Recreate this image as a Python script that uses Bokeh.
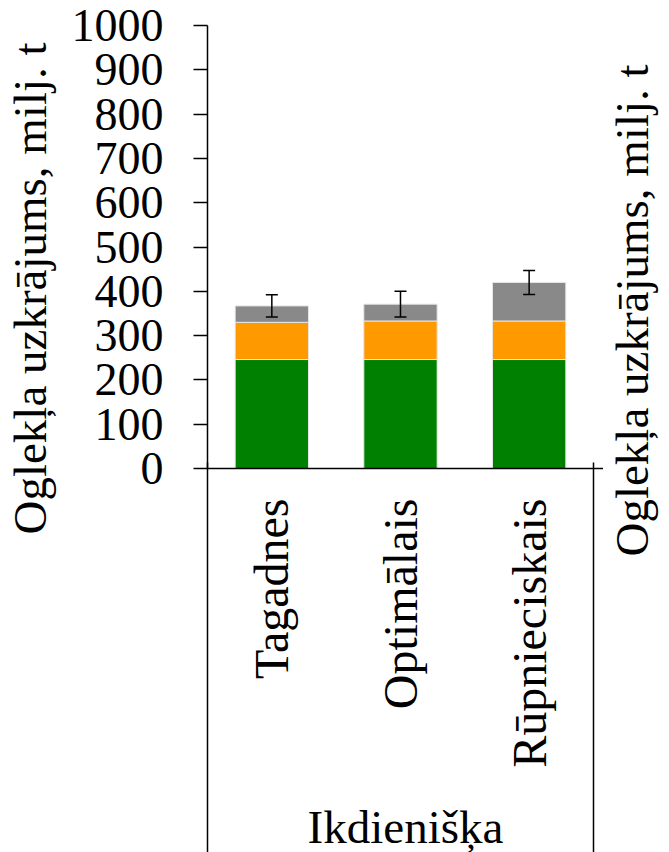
import math

from bokeh.embed import file_html
from bokeh.layouts import row
from bokeh.models import (ColumnDataSource, FixedTicker, LinearAxis, Range1d,
                          TeeHead, Title, Whisker)
from bokeh.plotting import figure
from bokeh.resources import INLINE

# Carbon stock by forest management scenario (million t)
scenarios = ["Tagadnes", "Optimālais", "Rūpnieciskais"]
group_name = "Ikdienišķa"
stock_green = [246, 246, 246]
stock_orange = [84, 87, 87]
stock_gray = [37, 38, 87]
stock_error = [25, 29, 27]
y_ticks = [0, 100, 200, 300, 400, 500, 600, 700, 800, 900, 1000]
axis_title = "Oglekļa uzkrājums, milj. t"

FONT = "Liberation Serif"
TICK_SIZE = "46px"
CAT_SIZE = "48px"
TITLE_SIZE = "47px"
HEIGHT = 852
SIDE_W = 66

# one slot per scenario on a numeric axis; slot centres carry the labels
n = len(scenarios)
centres = [i + 0.5 for i in range(n)]
totals = [g + o + r for g, o, r in zip(stock_green, stock_orange, stock_gray)]
src = ColumnDataSource(dict(
    x=centres,
    green=stock_green,
    orange=stock_orange,
    gray=stock_gray,
    upper=[t + e for t, e in zip(totals, stock_error)],
    lower=[t - e for t, e in zip(totals, stock_error)],
))

p = figure(
    x_range=Range1d(0, n * 1.026),
    y_range=Range1d(0, 1000),
    frame_width=396, frame_height=443,
    min_border_left=207 - SIDE_W, min_border_right=0,
    min_border_top=25, min_border_bottom=HEIGHT - 25 - 443,
    output_backend="svg", toolbar_location=None,
)
p.outline_line_color = None
p.grid.grid_line_color = None
p.background_fill_color = "white"
p.border_fill_color = "white"

p.vbar_stack(["green", "orange", "gray"], x="x", width=0.57, source=src,
             color=["#008000", "#FF9900", "#898989"],
             line_color="#e6e6e6", line_width=1)

p.add_layout(Whisker(
    base="x", upper="upper", lower="lower", source=src, level="overlay",
    line_color="black", line_width=1.5,
    upper_head=TeeHead(size=12, line_width=1.5, line_color="black"),
    lower_head=TeeHead(size=12, line_width=1.5, line_color="black"),
))

# value axis
ya = p.yaxis[0]
ya.ticker = FixedTicker(ticks=y_ticks)
ya.minor_tick_line_color = None
ya.major_tick_in = 0
ya.major_tick_out = 14
ya.major_tick_line_width = 1.5
ya.axis_line_width = 1.5
ya.axis_line_color = "black"
ya.major_tick_line_color = "black"
ya.major_label_standoff = 30
ya.major_label_text_font = FONT
ya.major_label_text_font_size = TICK_SIZE
ya.major_label_text_color = "black"

# scenario axis
xa = p.xaxis[0]
xa.ticker = FixedTicker(ticks=centres)
xa.major_label_overrides = {c: s for c, s in zip(centres, scenarios)}
xa.major_tick_line_color = None
xa.minor_tick_line_color = None
xa.major_tick_out = 0
xa.major_tick_in = 0
xa.minor_tick_out = 0
xa.minor_tick_in = 0
xa.axis_line_width = 1.5
xa.axis_line_color = "black"
xa.major_label_orientation = math.pi / 2
xa.major_label_standoff = 30
xa.major_label_text_font = FONT
xa.major_label_text_font_size = CAT_SIZE
xa.major_label_text_color = "black"
xa.axis_label = group_name
xa.axis_label_text_font = FONT
xa.axis_label_text_font_size = TITLE_SIZE
xa.axis_label_text_font_style = "normal"
xa.axis_label_text_color = "black"
xa.axis_label_standoff = 30

# group border lines: inward ticks of an unlabeled axis under the scenario axis
border = LinearAxis(
    ticker=FixedTicker(ticks=[0, n]),
    major_label_overrides={0: "", n: ""},
    axis_line_color=None,
    major_tick_in=393, major_tick_out=0,
    major_tick_line_color="black", major_tick_line_width=1.5,
    minor_tick_line_color=None,
)
p.add_layout(border, "below")


def title_strip(standoff, offset):
    """Narrow blank plot whose left-side title carries the rotated axis title."""
    s = figure(
        width=SIDE_W, height=HEIGHT,
        x_range=Range1d(0, 1), y_range=Range1d(0, 1),
        x_axis_type=None, y_axis_type=None, min_border=0,
        output_backend="svg", toolbar_location=None,
    )
    s.outline_line_color = None
    s.grid.grid_line_color = None
    s.add_layout(Title(
        text=axis_title, align="left", offset=offset, standoff=standoff,
        text_font=FONT, text_font_size=TITLE_SIZE, text_font_style="normal",
        text_color="black",
    ), "left")
    return s


left = title_strip(2, -69)
right = title_strip(0, -91)

layout = row(left, p, right)
open("out.html", "w").write(file_html(layout, INLINE))
